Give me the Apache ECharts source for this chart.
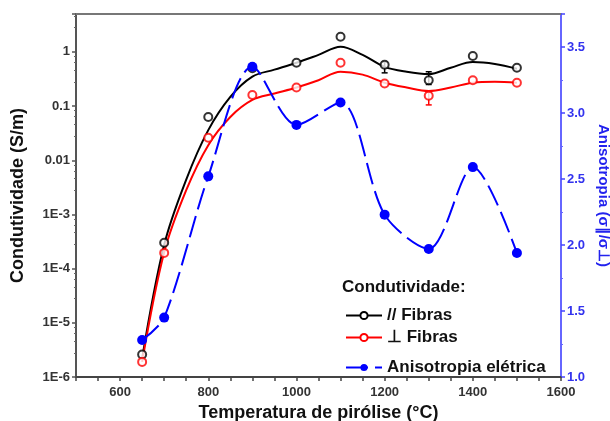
<!DOCTYPE html>
<html><head><meta charset="utf-8">
<script src="https://cdn.jsdelivr.net/npm/echarts@6/dist/echarts.min.js"></script>
<style>html,body{margin:0;padding:0;background:#fff}#c{width:610px;height:421px}</style>
</head><body><div id="c"></div>
<script>
// Measured points
const temps = [650, 700, 800, 900, 1000, 1100, 1200, 1300, 1400, 1500];
const paraPts = [2.6e-6, 3.0e-4, 0.063, 0.5, 0.63, 1.9, 0.58, 0.30, 0.84, 0.51];
const perpPts = [1.9e-6, 1.95e-4, 0.026, 0.16, 0.22, 0.63, 0.26, 0.155, 0.30, 0.27];
const anisoPts = [1.28, 1.45, 2.52, 3.35, 2.91, 3.08, 2.23, 1.97, 2.59, 1.94];
// Fitted curves
const fitTemps = [650, 700, 750, 800, 850, 900, 950, 1000, 1050, 1100, 1150, 1200, 1250, 1300, 1350, 1400, 1450, 1500];
const paraFit = [2.2e-6, 2.75e-4, 0.0044, 0.036, 0.148, 0.35, 0.47, 0.63, 0.88, 1.24, 0.88, 0.53, 0.43, 0.39, 0.51, 0.65, 0.60, 0.49];
const perpFit = [1.9e-6, 2.0e-4, 0.0028, 0.019, 0.063, 0.13, 0.17, 0.22, 0.30, 0.43, 0.38, 0.27, 0.22, 0.19, 0.22, 0.27, 0.28, 0.27];
// Error bars [temp, low, high]
const paraErr = [[1200, 0.41, 0.65], [1300, 0.25, 0.43]];
const perpErr = [[1300, 0.105, 0.18]];
const xTickLabels = [600, 800, 1000, 1200, 1400, 1600];
const logLabels = {'-6':'1E-6','-5':'1E-5','-4':'1E-4','-3':'1E-3','-2':'0.01','-1':'0.1','0':'1'};

const FONT = 'Liberation Sans, Arial, sans-serif';
const chart = echarts.init(document.getElementById('c'));
const zip = (xs, ys) => xs.map((x, i) => [x, ys[i]]);
const errSeries = (data, color) => ({
  type: 'custom', data, z: 3, silent: true,
  renderItem: (params, api) => {
    const x = api.value(0);
    const a = api.coord([x, api.value(1)]), b = api.coord([x, api.value(2)]);
    const st = {stroke: color, lineWidth: 1.5};
    return {type: 'group', children: [
      {type: 'line', shape: {x1: a[0], y1: a[1], x2: b[0], y2: b[1]}, style: st},
      {type: 'line', shape: {x1: a[0]-3, y1: a[1], x2: a[0]+3, y2: a[1]}, style: st},
      {type: 'line', shape: {x1: b[0]-3, y1: b[1], x2: b[0]+3, y2: b[1]}, style: st}
    ]};
  }
});

chart.setOption({
  animation: false,
  grid: {left: 76, right: 49, top: 14, bottom: 44, containLabel: false, outerBoundsMode: 'none'},
  graphic: [{type: 'text', left: 342, top: 279, style: {text: 'Condutividade:', font: 'bold 17px ' + FONT, fill: '#111'}}],
  legend: [
    {data: ['// Fibras', '⊥ Fibras'], orient: 'vertical', left: 340, top: 302, itemWidth: 36, itemHeight: 9, itemGap: 5,
     textStyle: {fontFamily: FONT, fontWeight: 'bold', fontSize: 17, color: '#111'}},
    {data: ['Anisotropia elétrica'], orient: 'vertical', left: 340, top: 354, itemWidth: 36, itemHeight: 9,
     textStyle: {fontFamily: FONT, fontWeight: 'bold', fontSize: 17, color: '#111'}}
  ],
  xAxis: [{
    type: 'value', min: 500, max: 1600, interval: 50,
    name: 'Temperatura de pirólise (°C)', nameLocation: 'middle', nameGap: 24,
    nameTextStyle: {fontFamily: FONT, fontWeight: 'bold', fontSize: 18, color: '#111'},
    axisLine: {lineStyle: {color: '#444', width: 2}},
    axisTick: {lineStyle: {color: '#444', width: 1.5}, length: 4},
    splitLine: {show: false},
    axisLabel: {margin: 9, fontFamily: FONT, fontWeight: 'bold', fontSize: 13, color: '#333',
      formatter: v => xTickLabels.includes(v) ? String(v) : ''}
  }, {
    type: 'value', position: 'top', min: 500, max: 1600,
    axisLine: {show: true, lineStyle: {color: '#777', width: 2}},
    axisTick: {show: false}, axisLabel: {show: false}, splitLine: {show: false}
  }],
  yAxis: [{
    type: 'log', logBase: 10, min: 1e-6, max: 5,
    name: 'Condutividade (S/m)', nameLocation: 'middle', nameGap: 49,
    nameTextStyle: {fontFamily: FONT, fontWeight: 'bold', fontSize: 18, color: '#111'},
    axisLine: {show: true, lineStyle: {color: '#555', width: 2}},
    axisTick: {lineStyle: {color: '#555', width: 1.5}, length: 4},
    minorTick: {show: true, splitNumber: 5, length: 2, lineStyle: {color: '#666'}},
    splitLine: {show: false},
    axisLabel: {margin: 6, fontFamily: FONT, fontWeight: 'bold', fontSize: 13, color: '#333',
      formatter: v => { const l = Math.round(Math.log10(v)); return Math.abs(Math.log10(v) - l) < 1e-6 && logLabels[l] ? logLabels[l] : ''; }}
  }, {
    type: 'value', min: 1.0, max: 3.75, interval: 0.5, position: 'right',
    name: 'Anisotropia (σ∥/σ⊥)', nameLocation: 'middle', nameGap: 18, nameRotate: -90,
    nameTextStyle: {fontFamily: FONT, fontWeight: 'bold', fontSize: 15, color: '#2222ee'},
    axisLine: {show: true, lineStyle: {color: '#6666ff', width: 2}},
    axisTick: {show: true, lineStyle: {color: '#4444ff', width: 1.5}, length: 4},
    minorTick: {show: true, splitNumber: 2, length: 2, lineStyle: {color: '#6666ff'}},
    splitLine: {show: false},
    axisLabel: {margin: 6, fontFamily: FONT, fontWeight: 'bold', fontSize: 13, color: '#3333ee', showMaxLabel: false,
      formatter: v => (Math.abs(v * 2 - Math.round(v * 2)) < 1e-6 ? v.toFixed(1) : '')}
  }],
  series: [
    {name: '// Fibras', type: 'line', smooth: 0.35, data: zip(fitTemps, paraFit), showSymbol: false,
     symbol: 'emptyCircle', symbolSize: 8, color: '#000', lineStyle: {color: '#000', width: 2}, z: 2},
    {name: '⊥ Fibras', type: 'line', smooth: 0.35, data: zip(fitTemps, perpFit), showSymbol: false,
     symbol: 'emptyCircle', symbolSize: 8, color: '#ff0000', lineStyle: {color: '#ff0000', width: 2}, z: 2},
    errSeries(paraErr, '#000'),
    errSeries(perpErr, '#ff0000'),
    {name: '// Fibras', type: 'scatter', data: zip(temps, paraPts), symbol: 'circle', symbolSize: 8,
     itemStyle: {color: '#fff', borderColor: '#000', borderWidth: 2}, z: 4},
    {name: '⊥ Fibras', type: 'scatter', data: zip(temps, perpPts), symbol: 'circle', symbolSize: 8,
     itemStyle: {color: '#fff', borderColor: '#ff0000', borderWidth: 2}, z: 4},
    {name: 'Anisotropia elétrica', type: 'line', yAxisIndex: 1, smooth: 0.3, data: zip(temps, anisoPts),
     symbol: 'circle', symbolSize: 10, color: '#0000ff', itemStyle: {color: '#0000ff'},
     lineStyle: {color: '#0000ff', width: 2, type: [22, 7]}, z: 5}
  ]
});
</script></body></html>
